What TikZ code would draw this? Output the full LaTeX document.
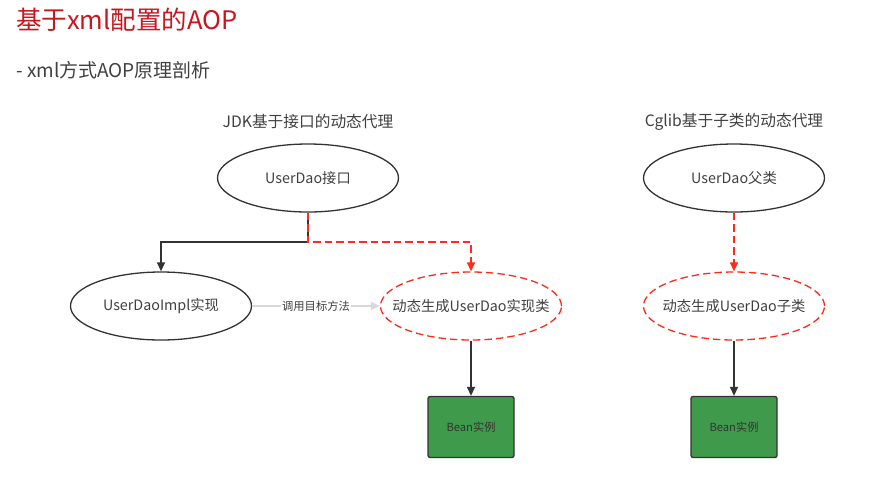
\documentclass[tikz,border=0pt]{standalone}
\usepackage{fontspec}
\setmainfont{Noto Sans CJK SC}
\usetikzlibrary{shapes.geometric,arrows.meta}
\definecolor{titlered}{HTML}{C8161E}
\definecolor{txtgray}{HTML}{404040}
\definecolor{linedark}{HTML}{333333}
\definecolor{dashred}{HTML}{FF2A1A}
\definecolor{beangreen}{HTML}{3F9B4B}
\definecolor{lightgray}{HTML}{D8D8D8}
\tikzset{
  x=1pt,y=-1pt,
  ell/.style={ellipse,draw=linedark,line width=1.3pt,minimum width=181pt,minimum height=68pt,inner sep=0pt,label={[font=\fontsize{14.3}{16}\selectfont,text=txtgray]center:#1}},
  dell/.style={ell=#1,draw=dashred,dash pattern=on 7.5pt off 4pt},
  bean/.style={rectangle,rounded corners=2pt,draw=linedark,line width=1.3pt,fill=beangreen,minimum width=86pt,minimum height=61pt,font=\fontsize{11.2}{13}\selectfont,text=linedark},
  head/.style={font=\fontsize{15.7}{18}\selectfont,text=txtgray},
  solidarr/.style={draw=linedark,line width=1.3pt,-{Triangle[length=9pt,width=8pt]}},
  dasharr/.style={draw=dashred,line width=1.3pt,dash pattern=on 7.5pt off 4pt,-{Triangle[length=9pt,width=8pt]}},
}
\begin{document}
\begin{tikzpicture}
\useasboundingbox (0,0) rectangle (894,477);
\node[anchor=west,font=\fontsize{25.5}{30}\selectfont,text=titlered,inner sep=0pt] (title) at (16,20) {基于xml配置的AOP};
\node[anchor=west,font=\fontsize{19}{22}\selectfont,text=txtgray,inner sep=0pt] (sub) at (16,70) {- xml方式AOP原理剖析};
\node[head] (h1) at (308,122) {JDK基于接口的动态代理};
\node[head] (h2) at (734,122) {Cglib基于子类的动态代理};
\node[ell={UserDao接口}] (iface) at (308,178) {};
\node[ell={UserDaoImpl实现}] (impl) at (161,306) {};
\node[dell={动态生成UserDao实现类}] (gen1) at (471,306) {};
\node[bean] (bean1) at (471,427) {Bean实例};
\node[ell={UserDao父类}] (parent) at (734,178) {};
\node[dell={动态生成UserDao子类}] (gen2) at (734,306) {};
\node[bean] (bean2) at (734,427) {Bean实例};
\coordinate (j) at (308,242);
\draw[solidarr] (iface.south) -- (j) -| (impl.north);
\draw[dasharr] (iface.south) -- (j) -| (gen1.north);
\draw[draw=lightgray,line width=1.3pt,-{Triangle[length=9pt,width=8pt]}] (impl.east) -- node[fill=white,inner sep=1pt,font=\fontsize{11.3}{13}\selectfont,text=txtgray] {调用目标方法} (gen1.west);
\draw[solidarr] (gen1.south) -- (bean1.north);
\draw[dasharr] (parent.south) -- (gen2.north);
\draw[solidarr] (gen2.south) -- (bean2.north);
\end{tikzpicture}
\end{document}
